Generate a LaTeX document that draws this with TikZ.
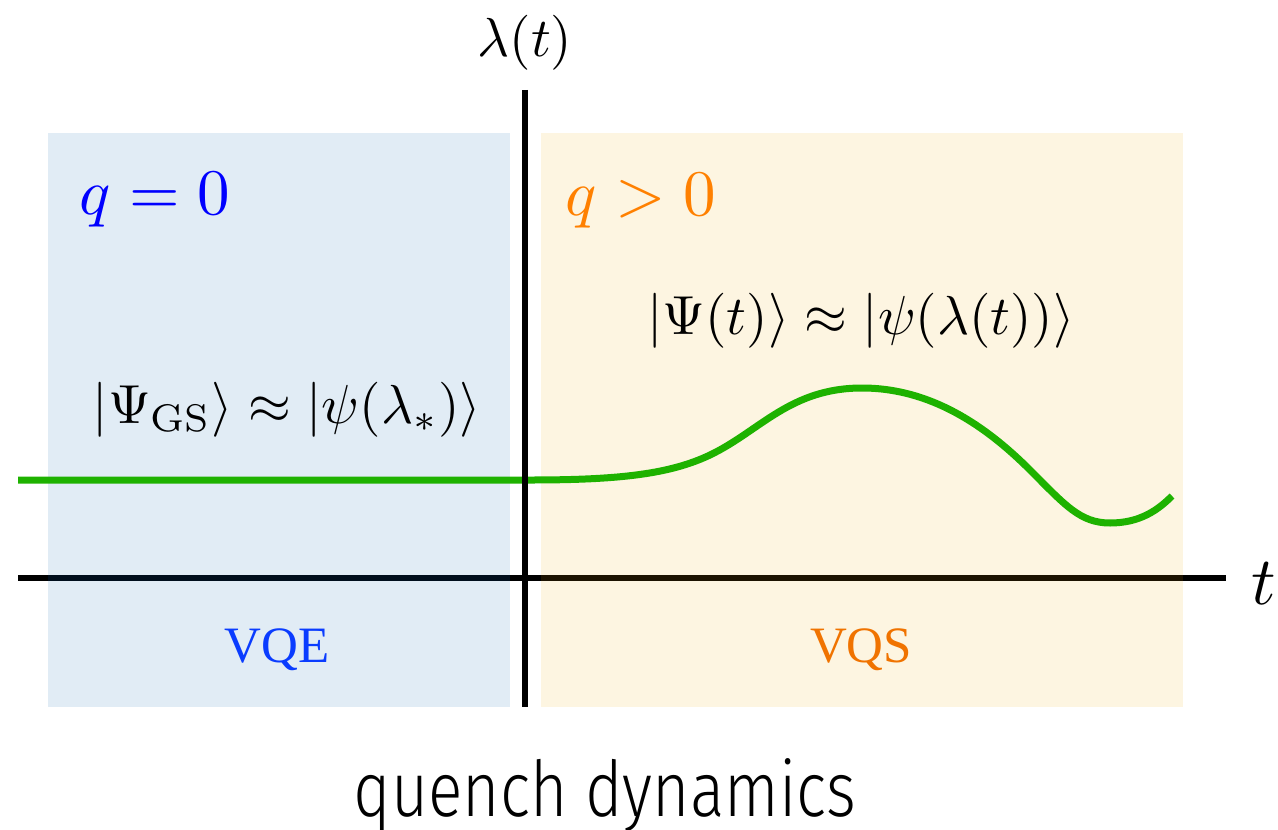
\documentclass[tikz,border=0pt]{standalone}
\usepackage{fontspec}
\IfFontExistsTF{Fira Sans Light}{\newfontfamily\titlefont{Fira Sans Light}}{\newfontfamily\titlefont{TeX Gyre Heros}}
\newfontfamily\libser{Liberation Serif}
\definecolor{bgblue}{RGB}{225,236,245}
\definecolor{bgyellow}{RGB}{253,245,225}
\definecolor{qblue}{RGB}{0,0,255}
\definecolor{vqeblue}{RGB}{10,60,255}
\definecolor{qorange}{RGB}{255,128,0}
\definecolor{vqsorange}{RGB}{240,115,0}
\definecolor{cgreen}{RGB}{30,178,0}
\definecolor{axisblue}{RGB}{0,14,28}
\definecolor{axisyellow}{RGB}{28,18,0}
\tikzset{
  mathlbl/.style={anchor=base, inner sep=0pt, font=\normalsize, scale=2.75},
  biglbl/.style={anchor=base, inner sep=0pt, font=\normalsize, scale=3.25},
  methodlbl/.style={anchor=base, inner sep=0pt, font=\libser\normalsize, scale=2.55},
  axisline/.style={line width=3pt},
  curve/.style={cgreen, line width=3.5pt}
}
\begin{document}
\begin{tikzpicture}[x=0.5pt,y=-0.5pt]
\useasboundingbox (0,0) rectangle (1278,829);
% regions
\fill[bgblue] (48,133) rectangle (510,707);
\fill[bgyellow] (541,133) rectangle (1183,707);
% horizontal axis
\coordinate (xs) at (18,578);
\coordinate (xe) at (1226,578);
\coordinate (ys) at (525,90);
\coordinate (ye) at (525,707);
\draw[axisline] (xs) -- (xe);
\draw[axisline, axisblue] (48,578) -- (510,578);
\draw[axisline, axisyellow] (541,578) -- (1183,578);
% curve
\coordinate (c0) at (18,480);
\coordinate (c1) at (530,480);
\coordinate (c2) at (710,455);
\coordinate (c3) at (862,388);
\coordinate (c4) at (1030,470);
\coordinate (c5) at (1110,523);
\coordinate (c6) at (1172,496);
\draw[curve, line cap=butt] (c0) -- (c1)
  .. controls (620,480) and (670,474) .. (c2)
  .. controls (760,431) and (790,388) .. (c3)
  .. controls (930,388) and (985,425) .. (c4)
  .. controls (1065,505) and (1080,523) .. (c5)
  .. controls (1140,523) and (1158,510) .. (c6);
% vertical axis
\draw[axisline] (ys) -- (ye);
% labels
\node[mathlbl] (lam) at (525,57) {$\lambda(t)$};
\node[biglbl, scale=3.4/3.25] (tl) at (1264,604) {$t$};
\node[biglbl, text=qblue] (q0) at (155,214) {$q=0$};
\node[biglbl, text=qorange] (q1) at (641,215) {$q>0$};
\node[mathlbl] (gs) at (287,423) {$|\Psi_{\mathrm{GS}}\rangle \approx |\psi(\lambda_*)\rangle$};
\node[mathlbl] (dyn) at (861,334) {$|\Psi(t)\rangle \approx |\psi(\lambda(t))\rangle$};
\node[methodlbl, text=vqeblue] (vqe) at (277,662) {VQE};
\node[methodlbl, text=vqsorange] (vqs) at (861,662) {VQS};
\node[anchor=base, inner sep=0pt, font=\titlefont\normalsize, xscale=3.2, yscale=3.85] (title) at (605,816) {quench dynamics};
\end{tikzpicture}
\end{document}
